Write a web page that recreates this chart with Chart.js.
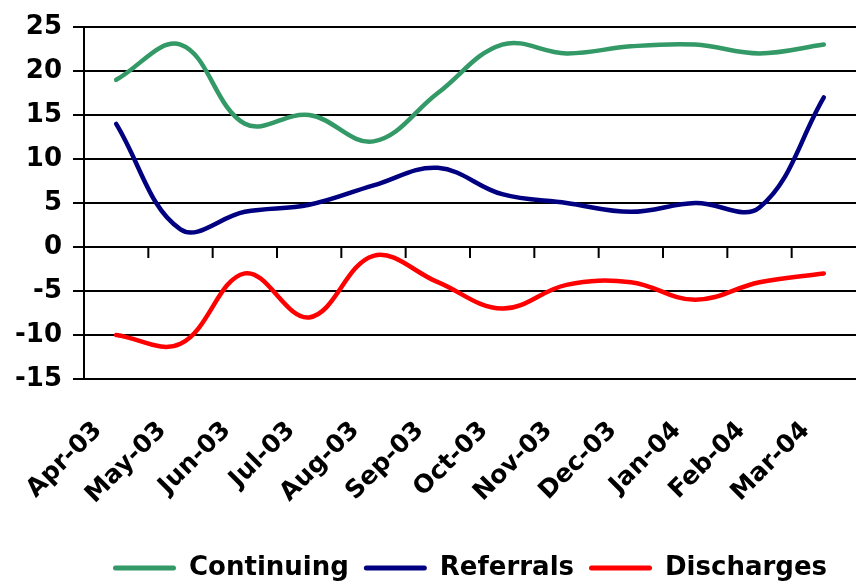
<!DOCTYPE html>
<html>
<head>
<meta charset="utf-8">
<script src="https://cdn.jsdelivr.net/npm/chart.js@4.4.1/dist/chart.umd.min.js"></script>
<style>
  html, body { margin: 0; padding: 0; background: #ffffff; }
  canvas { display: block; }
</style>
</head>
<body>
<canvas id="caseloadChart" width="856" height="582"></canvas>
<script>
const months = ['Apr-03', 'May-03', 'Jun-03', 'Jul-03', 'Aug-03', 'Sep-03',
                'Oct-03', 'Nov-03', 'Dec-03', 'Jan-04', 'Feb-04', 'Mar-04'];
const continuing = [19, 23, 14, 15, 12, 17.5, 23, 22, 22.8, 23, 22, 23];
const referrals = [14, 2, 4, 4.8, 7, 9, 6, 5, 4, 5, 4.5, 17];
const discharges = [-10, -11, -3, -8, -1, -4, -7, -4.3, -4, -6, -4, -3];

const yMin = -15;
const yMax = 25;
const yStep = 5;

// small tick marks hanging under the zero line, between months
const zeroLineTicks = {
    id: 'zeroLineTicks',
    beforeDatasetsDraw(chart) {
        const x = chart.scales.x;
        const y = chart.scales.y;
        const ctx = chart.ctx;
        const y0 = y.getPixelForValue(0);
        ctx.save();
        ctx.strokeStyle = '#000000';
        ctx.lineWidth = 2;
        ctx.beginPath();
        for (let i = 1; i < months.length; i++) {
            const xm = (x.getPixelForValue(i - 1) + x.getPixelForValue(i)) / 2;
            ctx.moveTo(xm, y0);
            ctx.lineTo(xm, y0 + 11);
        }
        ctx.stroke();
        ctx.restore();
    }
};

function makeLine(label, data, color) {
    return {
        label: label,
        data: data,
        borderColor: color,
        backgroundColor: color,
        borderWidth: 4.5,
        fill: false,
        tension: 0.38,
        pointRadius: 0,
        borderCapStyle: 'round'
    };
}

Chart.defaults.font.family = '"DejaVu Sans", sans-serif';
Chart.defaults.font.weight = 'bold';
Chart.defaults.color = '#000000';

new Chart(document.getElementById('caseloadChart'), {
    type: 'line',
    data: {
        labels: months,
        datasets: [
            makeLine('Continuing', continuing, '#339966'),
            makeLine('Referrals', referrals, '#000080'),
            makeLine('Discharges', discharges, '#ff0000')
        ]
    },
    plugins: [zeroLineTicks],
    options: {
        responsive: false,
        animation: false,
        layout: {
            padding: { top: 27, right: -2, bottom: -9, left: 0 }
        },
        plugins: {
            tooltip: { enabled: false },
            legend: {
                position: 'bottom',
                fullSize: false,
                labels: {
                    boxWidth: 63,
                    boxHeight: 5,
                    padding: 15,
                    useBorderRadius: true,
                    borderRadius: 2.5,
                    font: { size: 26, weight: 'bold' },
                    generateLabels(chart) {
                        return Chart.defaults.plugins.legend.labels.generateLabels(chart)
                            .map(item => Object.assign(item, { lineWidth: 0, fillStyle: item.strokeStyle }));
                    }
                }
            }
        },
        scales: {
            x: {
                offset: true,
                grid: { display: false, drawTicks: false },
                border: { display: false },
                ticks: {
                    autoSkip: false,
                    minRotation: 45,
                    maxRotation: 45,
                    padding: 37,
                    labelOffset: -18,
                    font: { size: 25, weight: 'bold' }
                },
                afterFit(scale) {
                    scale.height = 161;
                    scale.paddingLeft = 0;
                    scale.paddingRight = 0;
                }
            },
            y: {
                min: yMin,
                max: yMax,
                ticks: {
                    stepSize: yStep,
                    padding: 11,
                    font: { size: 26, weight: 'bold' }
                },
                grid: {
                    color: '#000000',
                    lineWidth: 2,
                    tickLength: 11,
                    tickColor: '#000000'
                },
                border: { color: '#000000', width: 2 },
                afterFit(scale) {
                    scale.width = 84;
                }
            }
        }
    }
});
</script>
</body>
</html>
